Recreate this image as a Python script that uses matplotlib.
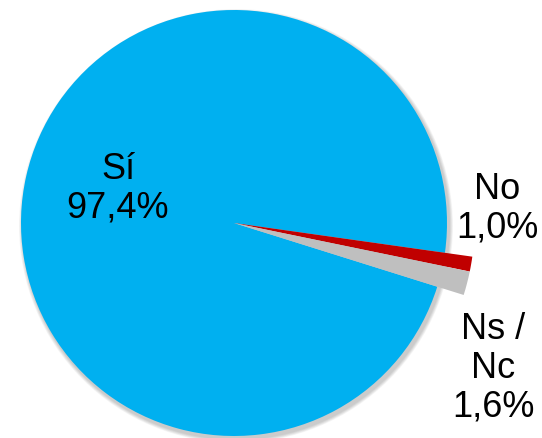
import matplotlib
matplotlib.use("Agg")
import matplotlib.pyplot as plt
from matplotlib.patches import Circle

plt.rcParams["font.family"] = ["Liberation Sans", "DejaVu Sans"]

# ── Data ──────────────────────────────────────────────────────────────────────
labels = ["Sí", "No", "Ns /\nNc"]
values = [97.4, 1.0, 1.6]
colors = ["#00B0F0", "#C00000", "#BFBFBF"]

# ── Layout (pixel-like data coords) ──────────────────────────────────────────
W, H = 542, 438
CX, CY, R = 234, H - 223, 213

fig = plt.figure(figsize=(W / 100, H / 100), dpi=100)
ax = fig.add_axes([0, 0, 1, 1])

# soft shadow
for k in range(6):
    ax.add_patch(Circle((CX + 2, CY - 3), R + 1 + k * 0.6, color="black",
                        alpha=0.035, lw=0, zorder=0))

wedges, _ = ax.pie(values, colors=colors, startangle=-17.4, counterclock=False,
                   center=(CX, CY), radius=R, frame=True,
                   wedgeprops=dict(linewidth=0))
for w in wedges:
    w.set_zorder(2)
# the two small slices stick out beyond the main disc
for w in wedges[1:]:
    w.set_radius(R * 1.13)
    w.set_zorder(3)

ax.set_xlim(0, W)
ax.set_ylim(0, H)
ax.set_aspect("equal")
ax.axis("off")

pct = [f"{v:.1f}".replace(".", ",") + "%" for v in values]
pos = [(118, 189), (497, 209), (493, 368)]
for lab, p, (x, y) in zip(labels, pct, pos):
    ax.text(x, H - y, f"{lab}\n{p}", ha="center", va="center", fontsize=26,
            color="black", linespacing=1.13, zorder=5)

fig.savefig("out.png", dpi=100)
